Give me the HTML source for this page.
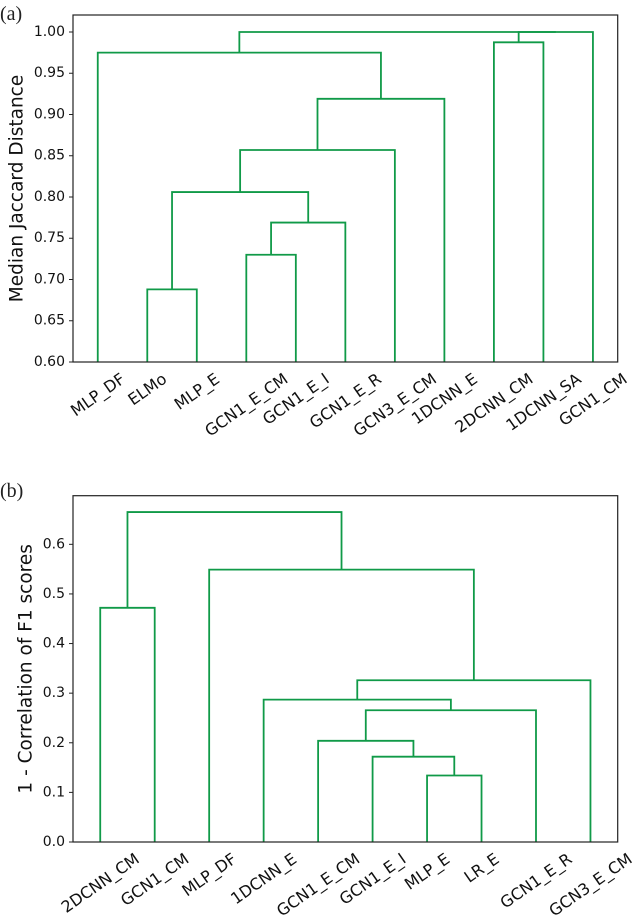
<!DOCTYPE html>
<html><head><meta charset="utf-8"><style>
html,body{margin:0;padding:0;background:#fff;}
svg{display:block;font-family:"DejaVu Sans","Liberation Sans",sans-serif;}
</style></head><body>
<svg id="fig" width="633" height="918" viewBox="0 0 633 918" xmlns="http://www.w3.org/2000/svg">
<text x="0" y="20" font-family="Liberation Serif, serif" font-size="20" fill="#222">(a)</text>
<text x="0" y="497" font-family="Liberation Serif, serif" font-size="20" fill="#222">(b)</text>
</svg>
<script>
// Panel (a) data
const leavesA = ["MLP_DF","ELMo","MLP_E","GCN1_E_CM","GCN1_E_I","GCN1_E_R","GCN3_E_CM","1DCNN_E","2DCNN_CM","1DCNN_SA","GCN1_CM"];
const mergeLeftA  = [1, 3, 12, 11, 14, 15, 0, 8, 18, 17];
const mergeRightA = [2, 4, 5, 13, 6, 7, 16, 9, 10, 19];
const heightsA = [0.688, 0.730, 0.769, 0.806, 0.857, 0.919, 0.975, 0.9875, 1.0, 1.0];
const ticksA = [0.60,0.65,0.70,0.75,0.80,0.85,0.90,0.95,1.00];
const tickLabelsA = ["0.60","0.65","0.70","0.75","0.80","0.85","0.90","0.95","1.00"];
// Panel (b) data
const leavesB = ["2DCNN_CM","GCN1_CM","MLP_DF","1DCNN_E","GCN1_E_CM","GCN1_E_I","MLP_E","LR_E","GCN1_E_R","GCN3_E_CM"];
const mergeLeftB  = [6, 5, 4, 12, 3, 14, 2, 0, 17];
const mergeRightB = [7, 10, 11, 8, 13, 9, 15, 1, 16];
const heightsB = [0.134, 0.172, 0.204, 0.2655, 0.287, 0.326, 0.549, 0.472, 0.665];
const ticksB = [0.0,0.1,0.2,0.3,0.4,0.5,0.6];
const tickLabelsB = ["0.0","0.1","0.2","0.3","0.4","0.5","0.6"];

const NS = "http://www.w3.org/2000/svg";
const svg = document.getElementById('fig');
const GREEN = "#109a48";
function mk(tag, attrs, parent){
  const e = document.createElementNS(NS, tag);
  for (const k in attrs) e.setAttribute(k, attrs[k]);
  (parent||svg).appendChild(e);
  return e;
}
function panel(cfg){
  const {left,right,top,bottom,ymin,ymax,leaves,ml,mr,hs,ticks,tickLabels,ylabel,ylabelX,prefix} = cfg;
  const g = mk('g', {});
  
  
  const n = leaves.length;
  const xS = i => left + (right-left) * (10*i+5) / (10*n);
  const yS = v => bottom - (v - ymin) / (ymax - ymin) * (bottom - top);
  const xs = [], hh = [];
  for (let i=0;i<n;i++){ xs.push(xS(i)); hh.push(ymin); }
  for (let k=0;k<hs.length;k++){
    const a = ml[k], b = mr[k], h = hs[k];
    const p = mk('path', {d:`M${xs[a]},${yS(hh[a])}V${yS(h)}H${xs[b]}V${yS(hh[b])}`, fill:'none', stroke:GREEN, 'stroke-width':1.8}, g);
    
    
    xs.push((xs[a]+xs[b])/2); hh.push(h);
  }
  const frame = mk('rect', {x:left, y:top, width:right-left, height:bottom-top, fill:'none', stroke:'#222', 'stroke-width':1.2}, g);
  
  
  ticks.forEach((t,i)=>{
    const y = yS(t);
    const tk = mk('line', {x1:left-4, x2:left, y1:y, y2:y, stroke:'#222', 'stroke-width':1}, g);
    
    
    const tl = mk('text', {x:left-8, y:y, 'text-anchor':'end', 'dominant-baseline':'central', 'font-size':14, fill:'#111'}, g);
    tl.textContent = tickLabels[i];
    
    
  });
  const yl = mk('text', {x:ylabelX, y:(top+bottom)/2, transform:`rotate(-90 ${ylabelX} ${(top+bottom)/2})`, 'text-anchor':'middle', 'dominant-baseline':'central', 'font-size':18.5, fill:'#111'}, g);
  yl.textContent = ylabel;
  
  
  const ang = 35, r = ang*Math.PI/180;
  leaves.forEach((name,i)=>{
    const x = xS(i);
    const tx = mk('text', {x:0, y:0, 'text-anchor':'middle', 'dominant-baseline':'central', 'font-size':16, fill:'#111'}, g);
    tx.textContent = name;
    
    
    const w = tx.getComputedTextLength(), h = 12;
    const halfH = (w*Math.sin(r) + h*Math.cos(r))/2;
    const cy = bottom + 10 + halfH;
    tx.setAttribute('transform', `translate(${x},${cy}) rotate(${-ang})`);
  });
}
panel({left:73,right:617.7,top:15,bottom:362,ymin:0.6,ymax:1.0206, leaves:leavesA, ml:mergeLeftA, mr:mergeRightA, hs:heightsA, ticks:ticksA, tickLabels:tickLabelsA, ylabel:"Median Jaccard Distance", ylabelX:17, prefix:'a'});
panel({left:73,right:617.7,top:495.7,bottom:842,ymin:0,ymax:0.698, leaves:leavesB, ml:mergeLeftB, mr:mergeRightB, hs:heightsB, ticks:ticksB, tickLabels:tickLabelsB, ylabel:"1 - Correlation of F1 scores", ylabelX:26, prefix:'b'});
</script>
</body></html>
